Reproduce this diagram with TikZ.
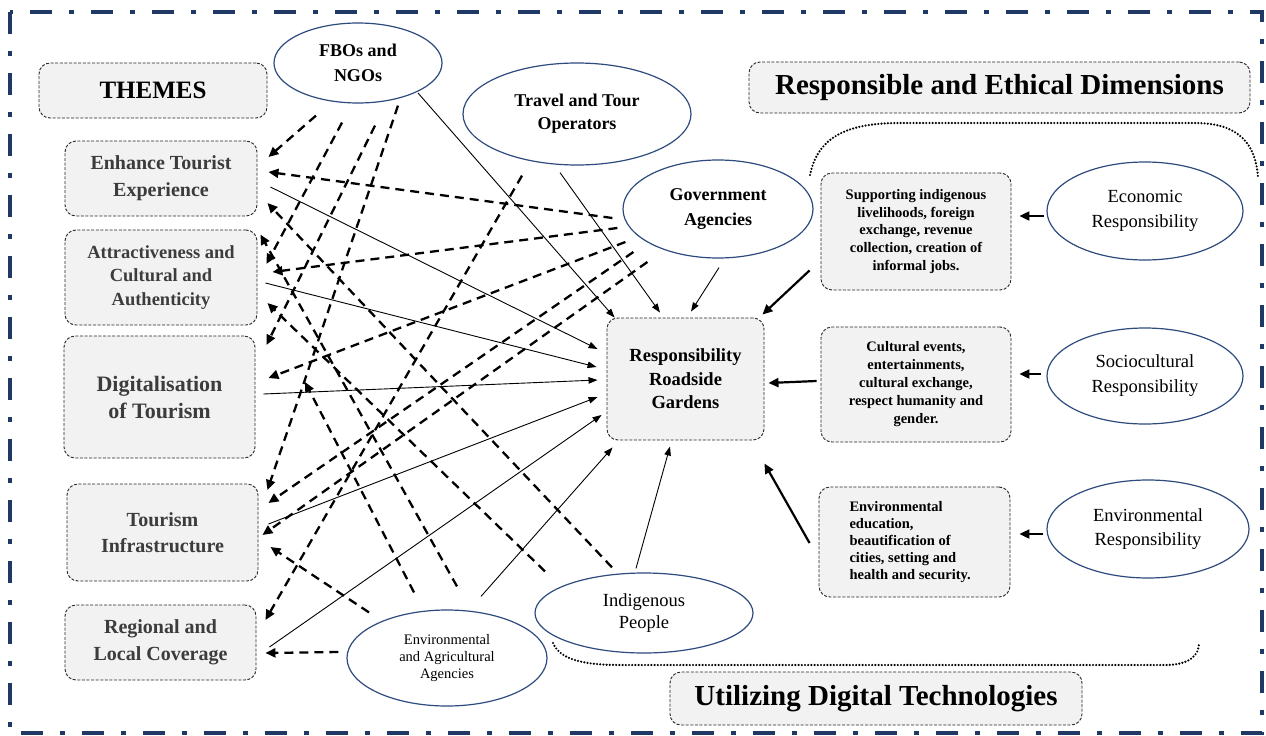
\documentclass[tikz,border=0pt]{standalone}
\usepackage{fontspec}
\setmainfont{Liberation Serif}
\usetikzlibrary{arrows.meta,shapes.geometric}

\definecolor{frameblue}{HTML}{1F3864}
\definecolor{ovalline}{HTML}{2E4B7E}
\definecolor{boxfill}{HTML}{F2F2F2}
\definecolor{themetext}{HTML}{3C3C3C}

\tikzset{
  box/.style={draw=black!85, dash pattern=on 3pt off 1.6pt, line width=0.9pt,
    rounded corners=11pt, fill=boxfill, align=center, inner sep=0pt},
  oval/.style={ellipse, draw=ovalline, line width=1.2pt, fill=white,
    align=center, inner sep=0pt},
  thinarrow/.style={line width=0.9pt, -{Triangle[length=9pt,width=6.5pt]}},
  boldarrow/.style={line width=2.2pt, -{Triangle[length=10pt,width=9pt]}},
  dasharrow/.style={line width=2.3pt, dash pattern=on 9pt off 6pt,
    -{Triangle[length=10pt,width=9pt]}},
  dotline/.style={line width=2.4pt, line cap=round, dash pattern=on 0pt off 3.2pt},
  themefont/.style={text=themetext, font=\bfseries\fontsize{20}{27}\selectfont},
}

\begin{document}
\begin{tikzpicture}[x=1pt,y=-1pt]
\useasboundingbox (0,0) rectangle (1266,736);
\fill[white] (0,0) rectangle (1266,736);

% outer frame
\draw[frameblue, line width=4pt, dash pattern=on 22pt off 17pt on 5pt off 17pt]
  (10,12) rectangle (1262,733);

% theme column
\node[box, minimum width=228pt, minimum height=55pt,
  font=\bfseries\fontsize{25}{30}\selectfont] (themes) at (153,90.5) {THEMES};
\node[box, themefont, minimum width=192pt, minimum height=75pt] (enh) at (161,178.5)
  {Enhance Tourist\\Experience};
\node[box, themefont, font=\bfseries\fontsize{18.5}{23.5}\selectfont,
  minimum width=192pt, minimum height=95pt] (att) at (161,277.5)
  {Attractiveness and\\Cultural and\\Authenticity};
\node[box, themefont, font=\bfseries\fontsize{22}{27}\selectfont,
  minimum width=191pt, minimum height=122pt] (dig) at (159.5,397)
  {Digitalisation\\of Tourism};
\node[box, themefont, font=\bfseries\fontsize{20}{26}\selectfont,
  minimum width=191pt, minimum height=97pt] (tin) at (162.5,532.5)
  {Tourism\\Infrastructure};
\node[box, themefont, minimum width=191pt, minimum height=75pt] (reg) at (160.5,642.5)
  {Regional and\\Local Coverage};

% central box
\node[box, font=\bfseries\fontsize{18.5}{23.5}\selectfont,
  minimum width=157pt, minimum height=122pt] (rrg) at (685.5,379)
  {Responsibility\\Roadside\\Gardens};

% headings on the right
\node[box, minimum width=501pt, minimum height=51pt,
  font=\bfseries\fontsize{29}{34}\selectfont] (red) at (999.5,87.5)
  {Responsible and Ethical Dimensions};
\node[box, minimum width=412pt, minimum height=53pt,
  font=\bfseries\fontsize{29}{34}\selectfont] (udt) at (876,698.5)
  {Utilizing Digital Technologies};

% dimension boxes
\node[box, minimum width=190pt, minimum height=117pt,
  font=\bfseries\fontsize{14.5}{17.8}\selectfont] (sup) at (916,231.5)
  {Supporting indigenous\\livelihoods, foreign\\exchange, revenue\\collection, creation of\\informal jobs.};
\node[box, minimum width=190pt, minimum height=115pt,
  font=\bfseries\fontsize{14.5}{18}\selectfont] (cul) at (916,384.5)
  {Cultural events,\\entertainments,\\cultural exchange,\\respect humanity and\\gender.};
\node[box, minimum width=191pt, minimum height=110pt, text width=130pt, align=flush left,
  font=\bfseries\fontsize{14.5}{17}\selectfont] (edu) at (914.5,542)
  {Environmental\\education,\\beautification of\\cities, setting and\\health and security.};

% stakeholders
\node[oval, minimum width=168pt, minimum height=80pt,
  font=\bfseries\fontsize{18}{25}\selectfont] (fbo) at (358,63) {FBOs and\\NGOs};
\node[oval, minimum width=228pt, minimum height=102pt,
  font=\bfseries\fontsize{18}{23}\selectfont] (trv) at (577,114) {Travel and Tour\\Operators};
\node[oval, minimum width=190pt, minimum height=98pt,
  font=\bfseries\fontsize{18}{25}\selectfont] (gov) at (718,209) {Government\\Agencies};
\node[oval, minimum width=218pt, minimum height=80pt,
  font=\fontsize{18.5}{22}\selectfont] (ind) at (644,613) {Indigenous\\People};
\node[oval, minimum width=200pt, minimum height=96pt,
  font=\fontsize{14.5}{17}\selectfont] (env) at (447,658)
  {Environmental\\and Agricultural\\Agencies};

% responsibilities
\node[oval, minimum width=196pt, minimum height=98pt,
  font=\fontsize{18.5}{25}\selectfont] (eco) at (1145,211) {Economic\\Responsibility};
\node[oval, minimum width=196pt, minimum height=96pt,
  font=\fontsize{18.5}{25}\selectfont] (soc) at (1145,376) {Sociocultural\\Responsibility};
\node[oval, minimum width=202pt, minimum height=98pt,
  font=\fontsize{18.5}{24}\selectfont] (ers) at (1148,529) {Environmental\\Responsibility};

% dotted brackets
\draw[dotline] (810,175) .. controls (818,135) and (850,123) .. (900,123)
  -- (1195,123) .. controls (1240,123) and (1256,145) .. (1258,178);
\draw[dotline] (553,643) .. controls (560,660) and (585,665) .. (620,665)
  -- (1165,665) .. controls (1190,665) and (1199,655) .. (1199,643);

\coordinate (tipA) at (305,382);

% solid links into the central box
\draw[thinarrow] ([shift={(60,30)}]fbo.center) -- ([shift={(8,0)}]rrg.north west);
\draw[thinarrow] ([shift={(-17,7)}]trv.south) -- ([shift={(-25.5,-5)}]rrg.north);
\draw[thinarrow] ([shift={(1,9)}]gov.south) -- ([shift={(5.5,-6)}]rrg.north);
\draw[thinarrow] ([shift={(13,8.5)}]enh.east) -- ([shift={(-9,-30)}]rrg.west);
\draw[thinarrow] ([shift={(8,5.5)}]att.east) -- ([shift={(-10,-12)}]rrg.west);
\draw[thinarrow] ([shift={(8,-3)}]dig.east) -- ([shift={(-9,1)}]rrg.west);
\draw[thinarrow] ([shift={(10,-8.5)}]tin.east) -- ([shift={(-9,18)}]rrg.west);
\draw[thinarrow] ([shift={(13,4.5)}]reg.east) -- ([shift={(-5,36)}]rrg.west);
\draw[thinarrow] ([shift={(34,-13)}]env.north) -- ([shift={(6,7)}]rrg.south west);
\draw[thinarrow] ([shift={(-8,-4)}]ind.north) -- ([shift={(-15.5,6)}]rrg.south);

% dimension links
\draw[boldarrow] ([shift={(-11,-20)}]sup.south west) -- ([shift={(-2,-3)}]rrg.north east);
\draw[boldarrow] ([shift={(-4,-3.5)}]cul.west) -- ([shift={(4,4)}]rrg.east);
\draw[boldarrow] ([shift={(-9,1)}]edu.west) -- ([shift={(0,23)}]rrg.south east);
\draw[boldarrow] ([shift={(-2,5)}]eco.west) -- ([shift={(8,-15.5)}]sup.east);
\draw[boldarrow] ([shift={(-5,-2)}]soc.west) -- ([shift={(8,-10.5)}]cul.east);
\draw[boldarrow] ([shift={(-3,5)}]ers.west) -- ([shift={(9,-8)}]edu.east);

% stakeholder to theme links
\draw[dasharrow] ([shift={(-42,12)}]fbo.south) -- ([shift={(11,-21.5)}]enh.east);
\draw[dasharrow] ([shift={(-16,19)}]fbo.south) -- ([shift={(9,-13.5)}]att.east);
\draw[dasharrow] ([shift={(17,22)}]fbo.south) -- ([shift={(11,-52)}]dig.east);
\draw[dasharrow] ([shift={(40,2)}]fbo.south) -- ([shift={(9,-42.5)}]tin.east);
\draw[dasharrow] ([shift={(-10,9)}]gov.west) -- ([shift={(11,-6.5)}]enh.east);
\draw[dasharrow] ([shift={(-5,19)}]gov.west) -- ([shift={(15,-5.5)}]att.east);
\draw[dasharrow] ([shift={(3,33)}]gov.west) -- ([shift={(13,-19)}]dig.east);
\draw[dasharrow] ([shift={(11,43)}]gov.west) -- ([shift={(10,-29.5)}]tin.east);
\draw[dasharrow] ([shift={(25,53)}]gov.west) -- ([shift={(4,2.5)}]tin.east);
\draw[dasharrow] ([shift={(-55,10)}]trv.south) -- ([shift={(9,-22.5)}]reg.east);
\draw[dasharrow] ([shift={(-32,-5)}]ind.north) -- ([shift={(10,24.5)}]enh.east);
\draw[dasharrow] ([shift={(-99,-1)}]ind.north) -- ([shift={(10,25.5)}]att.east);
\draw[dasharrow] ([shift={(10,-23)}]env.north) -- ([shift={(3,5)}]att.north east);
\draw[dasharrow] ([shift={(-33,-17)}]env.north) -- (tipA);
\draw[dasharrow] ([shift={(-78,3)}]env.north) -- ([shift={(12,14.5)}]tin.east);
\draw[dasharrow] ([shift={(-8,-6)}]env.west) -- ([shift={(9,10.5)}]reg.east);

\end{tikzpicture}
\end{document}
